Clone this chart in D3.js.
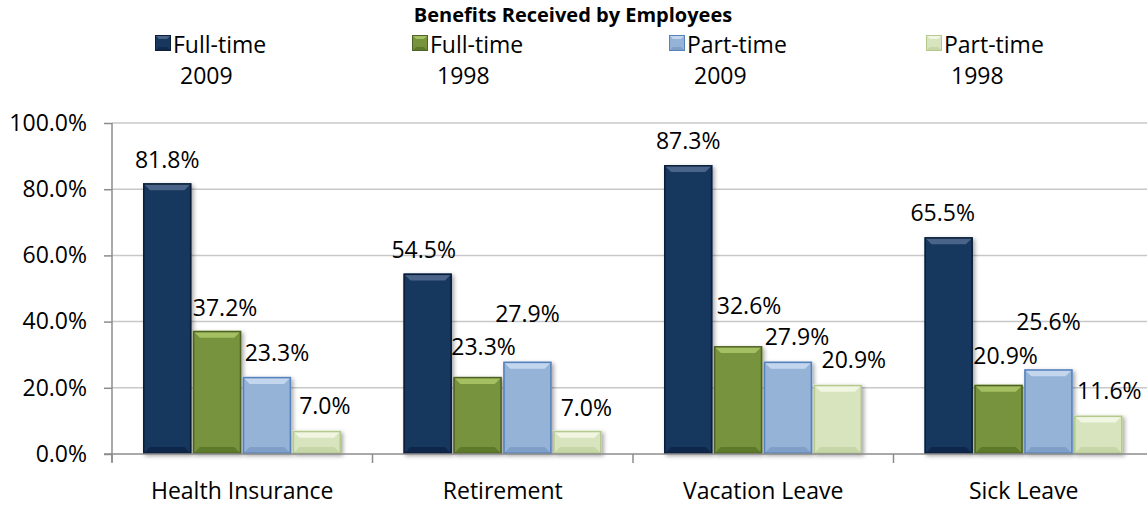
<!DOCTYPE html>
<html>
<head>
<meta charset="utf-8">
<script src="https://cdn.jsdelivr.net/npm/d3@7"></script>
<style>
body { margin: 0; background: #fff; }
svg { display: block; font-family: "Open Sans", sans-serif; }
</style>
</head>
<body>
<script>
"use strict";
const categories = ["Health Insurance", "Retirement", "Vacation Leave", "Sick Leave"];
const seriesNames = [["Full-time", "2009"], ["Full-time", "1998"], ["Part-time", "2009"], ["Part-time", "1998"]];
const fullTime2009 = [81.8, 54.5, 87.3, 65.5];
const fullTime1998 = [37.2, 23.3, 32.6, 20.9];
const partTime2009 = [23.3, 27.9, 27.9, 25.6];
const partTime1998 = [7.0, 7.0, 20.9, 11.6];
const yTicks = [0, 20, 40, 60, 80, 100];

// label placement nudges (px above bar top to label middle, px right of bar centre), per series
const labelGap = [[23, 24, 24, 24], [23, 30, 40, 29], [24, 48, 25, 47], [25, 23, 25, 25]];
const labelDx = [[0, -4, 0, -6], [8, 6, 11, 7], [10, 0, 9, 0], [8, 9, 16, 11]];

const values = [fullTime2009, fullTime1998, partTime2009, partTime1998];
const fills = ["#17375e", "#77933c", "#95b3d7", "#d7e4bd"];
const edges = ["#0c1f38", "#4f6228", "#5582bd", "#b5c98e"];
const tops = ["#4a6489", "#a4c062", "#c3d6ee", "#f0f6e2"];
const bottoms = ["#10284a", "#5d7a2c", "#7f9fc8", "#c6d6a6"];
const fs = 23;

const w = 1147, h = 508;
const svg = d3.select("body").append("svg").attr("width", w).attr("height", h);
const defs = svg.append("defs");
const f = defs.append("filter").attr("id", "shadow").attr("x", "-20%").attr("y", "-20%").attr("width", "150%").attr("height", "150%");
f.append("feDropShadow").attr("dx", 2).attr("dy", 2).attr("stdDeviation", 2).attr("flood-color", "#000").attr("flood-opacity", 0.35);

const x0 = d3.scaleBand().domain(categories).range([112, 1154]);
const x1 = d3.scaleBand().domain(d3.range(4)).range([31, 229]).paddingInner(0.03);
const y = d3.scaleLinear().domain([0, 100]).range([454, 123]);

// gridlines
svg.append("g").selectAll("line").data(yTicks.filter(d => d > 0)).enter().append("line")
	.attr("x1", 112).attr("x2", w).attr("y1", d => y(d)).attr("y2", d => y(d))
	.attr("stroke", "#c8c8c8").attr("stroke-width", 1.5);

// bars
const bevel = 7;
const bars = svg.append("g").attr("filter", "url(#shadow)");
categories.forEach((c, ci) => {
	values.forEach((vals, si) => {
		const bx = x0(c) + x1(si), bw = x1.bandwidth();
		const by = y(vals[ci]), bh = y(0) - y(vals[ci]);
		const g = bars.append("g");
		g.append("rect").attr("x", bx).attr("y", by).attr("width", bw).attr("height", bh).attr("fill", fills[si]);
		const b = Math.min(bevel, bh / 2);
		g.append("path").attr("d", `M${bx},${by}H${bx + bw}L${bx + bw - b},${by + b}H${bx + b}Z`).attr("fill", tops[si]);
		g.append("path").attr("d", `M${bx},${by + bh}H${bx + bw}L${bx + bw - b},${by + bh - b}H${bx + b}Z`).attr("fill", bottoms[si]);
		g.append("rect").attr("x", bx + 0.75).attr("y", by + 0.75).attr("width", bw - 1.5).attr("height", bh - 1.5)
			.attr("fill", "none").attr("stroke", edges[si]).attr("stroke-width", 1.5);
	});
});

// data labels
categories.forEach((c, ci) => {
	values.forEach((vals, si) => {
		svg.append("text")
			.attr("x", x0(c) + x1(si) + x1.bandwidth() / 2 + labelDx[si][ci])
			.attr("y", y(vals[ci]) - labelGap[si][ci] + 8)
			.attr("text-anchor", "middle").attr("font-size", fs).attr("fill", "#000")
			.text(vals[ci].toFixed(1) + "%");
	});
});

// y axis
const yAxis = d3.axisLeft(y).tickValues(yTicks).tickSize(8).tickPadding(17).tickFormat(d => d.toFixed(1) + "%");
const ya = svg.append("g").attr("transform", "translate(112,0)").call(yAxis);
ya.select(".domain").attr("stroke", "#8c8c8c").attr("stroke-width", 1.5).attr("d", "M0,123V462");
ya.selectAll(".tick line").attr("stroke", "#8c8c8c").attr("stroke-width", 1.5);
ya.selectAll("text").attr("font-size", fs).attr("fill", "#000").attr("font-family", "Open Sans");

// x axis
svg.append("line").attr("x1", 104).attr("x2", w).attr("y1", y(0)).attr("y2", y(0)).attr("stroke", "#8c8c8c").attr("stroke-width", 1.5);
svg.append("g").selectAll("line").data(categories).enter().append("line")
	.attr("x1", d => x0(d)).attr("x2", d => x0(d)).attr("y1", y(0)).attr("y2", y(0) + 9)
	.attr("stroke", "#8c8c8c").attr("stroke-width", 1.5);
svg.append("g").selectAll("text").data(categories).enter().append("text")
	.attr("x", d => x0(d) + x0.bandwidth() / 2).attr("y", 499)
	.attr("text-anchor", "middle").attr("font-size", fs).text(d => d);

// title
svg.append("text").attr("x", 573).attr("y", 22).attr("text-anchor", "middle")
	.attr("font-size", 20).attr("font-weight", "bold").text("Benefits Received by Employees");

// legend
const legend = svg.append("g").selectAll("g").data(seriesNames).enter().append("g")
	.attr("transform", (d, i) => `translate(${155 + i * 257},0)`);
legend.each(function (d, i) {
	const g = d3.select(this);
	const s = 16, ly = 35;
	g.append("rect").attr("x", 0).attr("y", ly).attr("width", s).attr("height", s).attr("fill", fills[i]);
	g.append("path").attr("d", `M0,${ly}H${s}L${s - 4},${ly + 4}H4Z`).attr("fill", tops[i]);
	g.append("path").attr("d", `M0,${ly + s}H${s}L${s - 4},${ly + s - 4}H4Z`).attr("fill", bottoms[i]);
	g.append("rect").attr("x", 0.5).attr("y", ly + 0.5).attr("width", s - 1).attr("height", s - 1).attr("fill", "none").attr("stroke", edges[i]);
	g.append("text").attr("x", 18).attr("y", 53).attr("font-size", fs).text(d[0]);
	g.append("text").attr("x", 25).attr("y", 84).attr("font-size", fs).text(d[1]);
});
</script>
</body>
</html>
